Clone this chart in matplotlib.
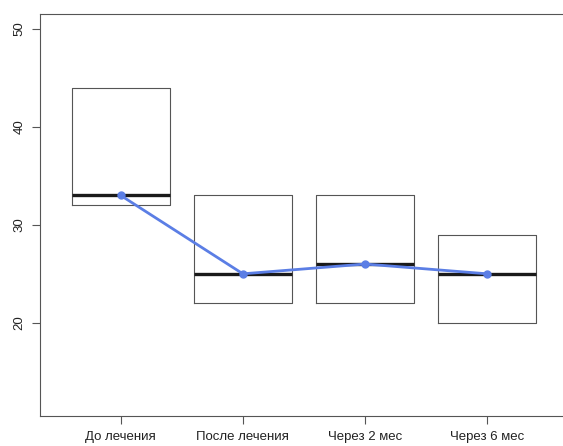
import matplotlib

matplotlib.use("Agg")
import matplotlib.pyplot as plt

plt.rcParams["font.family"] = ["Liberation Sans", "DejaVu Sans"]

groups = ["До лечения", "После лечения", "Через 2 мес", "Через 6 мес"]
q1 = [32, 22, 22, 20]
medians = [33, 25, 26, 25]
q3 = [44, 33, 33, 29]
y_ticks = [20, 30, 40, 50]

BLUE = "#5b7ee5"

fig = plt.figure(figsize=(5.63, 4.46), dpi=100)
ax = fig.add_axes([40 / 563, 1 - 416 / 446, 528 / 563, 402 / 446])

positions = list(range(1, len(groups) + 1))
stats = [
    {"q1": a, "med": m, "q3": b, "whislo": a, "whishi": b, "fliers": []}
    for a, m, b in zip(q1, medians, q3)
]
ax.bxp(
    stats, positions=positions, widths=0.8, showcaps=False,
    boxprops={"color": "#555555", "linewidth": 0.8},
    whiskerprops={"linewidth": 0},
    medianprops={"color": "#1a1a1a", "linewidth": 2.4},
)
ax.plot(positions, medians, color=BLUE, linewidth=2, marker="o", markersize=5, zorder=5)

ax.set_xlim(0.34, 4.66)
ax.set_ylim(10.5, 51.5)
ax.set_xticks(positions, groups)
ax.set_yticks(y_ticks)
for label in ax.get_yticklabels():
    label.set_rotation(90)
    label.set_va("center")
ax.tick_params(labelsize=9.5, color="#555555", length=6, pad=4.5, labelcolor="#222222")
for spine in ax.spines.values():
    spine.set_color("#555555")
    spine.set_linewidth(0.8)

fig.savefig("out.png", dpi=100)
